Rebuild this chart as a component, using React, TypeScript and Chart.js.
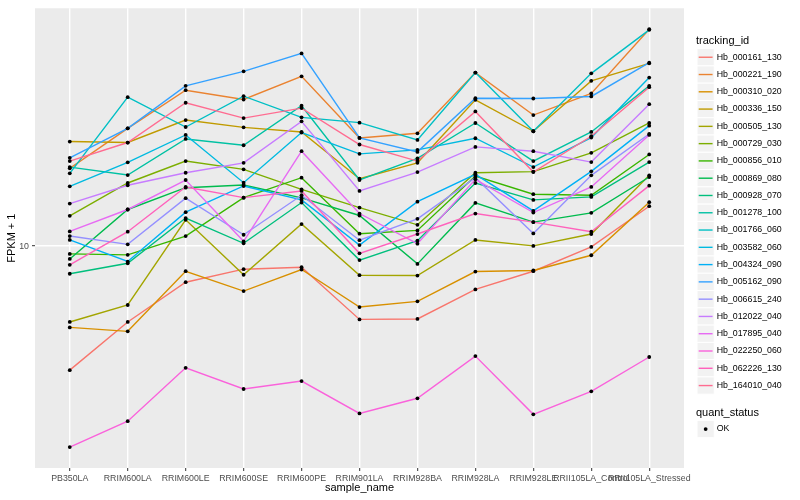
import React, { useEffect, useRef } from "react";
import { Chart, registerables } from "chart.js";

Chart.register(...registerables);

const FONT = "'Liberation Sans', Arial, Helvetica, sans-serif";

// categories (x axis)
const sampleNames = [
  "PB350LA",
  "RRIM600LA",
  "RRIM600LE",
  "RRIM600SE",
  "RRIM600PE",
  "RRIM901LA",
  "RRIM928BA",
  "RRIM928LA",
  "RRIM928LE",
  "RRII105LA_Control",
  "RRII105LA_Stressed",
];

// y tick labels (log10 scale)
const yTickValues = [10];

const trackingIds = [
  "Hb_000161_130",
  "Hb_000221_190",
  "Hb_000310_020",
  "Hb_000336_150",
  "Hb_000505_130",
  "Hb_000729_030",
  "Hb_000856_010",
  "Hb_000869_080",
  "Hb_000928_070",
  "Hb_001278_100",
  "Hb_001766_060",
  "Hb_003582_060",
  "Hb_004324_090",
  "Hb_005162_090",
  "Hb_006615_240",
  "Hb_012022_040",
  "Hb_017895_040",
  "Hb_022250_060",
  "Hb_062226_130",
  "Hb_164010_040",
];

const seriesColors = [
  "#F8766D", "#EA8331", "#D89000", "#C09B00", "#A3A500",
  "#7CAE00", "#39B600", "#00BB4E", "#00BF7D", "#00C1A3",
  "#00BFC4", "#00BAE0", "#00B0F6", "#35A2FF", "#9590FF",
  "#C77CFF", "#E76BF3", "#FA62DB", "#FF62BC", "#FF6C91",
];

// FPKM + 1 values per tracking_id, one per sample
const hb_000161_130 = [3.84, 5.57, 7.57, 8.37, 8.5, 5.68, 5.7, 7.16, 8.24, 9.94, 13.61];
const hb_000221_190 = [18.23, 24.83, 33.32, 31.02, 37.09, 23.05, 23.89, 38.17, 27.5, 32.49, 53.37];
const hb_000310_020 = [5.34, 5.18, 8.24, 7.07, 8.35, 6.25, 6.53, 8.22, 8.29, 9.32, 14.04];
const hb_000336_150 = [22.42, 22.25, 26.47, 25.02, 24.14, 16.83, 19.02, 30.95, 24.27, 35.81, 40.99];
const hb_000505_130 = [5.57, 6.35, 12.25, 8.02, 11.86, 7.99, 7.97, 10.49, 10.02, 10.98, 17.27];
const hb_000729_030 = [12.64, 16.28, 19.28, 18.09, 15.49, 13.47, 11.79, 17.62, 17.78, 20.55, 25.87];
const hb_000856_010 = [9.42, 9.35, 10.81, 14.54, 16.96, 11.01, 11.29, 17.18, 14.93, 14.81, 20.29];
const hb_000869_080 = [9.06, 13.27, 15.7, 16.03, 14.51, 12.67, 8.72, 13.96, 12.04, 12.93, 17.05];
const hb_000928_070 = [8.08, 8.76, 12.42, 10.22, 14.0, 8.98, 10.43, 16.28, 14.29, 14.62, 19.13];
const hb_001278_100 = [18.41, 17.31, 22.87, 21.79, 29.56, 16.66, 19.68, 25.87, 19.28, 24.14, 34.46];
const hb_001766_060 = [17.54, 31.57, 25.08, 31.82, 27.02, 25.94, 22.7, 38.17, 24.27, 37.96, 53.09];
const hb_003582_060 = [15.87, 19.09, 23.59, 16.32, 24.03, 20.39, 21.02, 23.0, 18.41, 23.12, 36.73];
const hb_004324_090 = [10.49, 8.88, 13.0, 15.91, 14.29, 10.08, 14.1, 17.41, 13.13, 17.81, 25.35];
const hb_005162_090 = [19.77, 24.83, 34.46, 38.55, 44.26, 23.05, 20.7, 31.33, 31.26, 31.75, 41.21];
const hb_006615_240 = [10.81, 10.14, 14.48, 10.92, 14.81, 10.47, 12.35, 16.96, 11.03, 17.27, 23.77];
const hb_012022_040 = [13.89, 16.0, 17.62, 19.02, 26.2, 15.31, 17.71, 21.51, 20.81, 19.13, 29.92];
const hb_017895_040 = [11.2, 13.27, 16.66, 10.38, 20.81, 12.86, 10.19, 16.75, 12.96, 15.79, 23.59];
const hb_022250_060 = [2.12, 2.59, 3.91, 3.32, 3.53, 2.75, 3.09, 4.28, 2.73, 3.26, 4.25];
const hb_062226_130 = [8.66, 11.18, 15.79, 14.54, 15.31, 9.46, 10.98, 12.86, 12.04, 11.18, 15.95];
const hb_164010_040 = [19.28, 22.25, 30.25, 26.87, 29.02, 21.91, 19.28, 28.29, 17.71, 23.35, 34.1];

const seriesValues = [
  hb_000161_130, hb_000221_190, hb_000310_020, hb_000336_150, hb_000505_130,
  hb_000729_030, hb_000856_010, hb_000869_080, hb_000928_070, hb_001278_100,
  hb_001766_060, hb_003582_060, hb_004324_090, hb_005162_090, hb_006615_240,
  hb_012022_040, hb_017895_040, hb_022250_060, hb_062226_130, hb_164010_040,
];

const quantStatus = ["OK"];

const panelBackground = {
  id: "panelBackground",
  beforeDraw(chart: any) {
    const { ctx, chartArea } = chart;
    if (!chartArea) return;
    ctx.save();
    ctx.fillStyle = "#EBEBEB";
    ctx.fillRect(chartArea.left, chartArea.top, chartArea.right - chartArea.left, chartArea.bottom - chartArea.top);
    ctx.restore();
  },
};

function ChartCanvas() {
  const ref = useRef<HTMLCanvasElement | null>(null);

  useEffect(() => {
    if (!ref.current) return;
    Chart.defaults.font.family = FONT;

    const all = seriesValues.flat();
    const lo = Math.log10(Math.min(...all));
    const hi = Math.log10(Math.max(...all));
    const pad = (hi - lo) * 0.05;
    const yMin = Math.pow(10, lo - pad);
    const yMax = Math.pow(10, hi + pad);

    const datasets: any[] = seriesValues.map((vals, i) => ({
      type: "line",
      label: trackingIds[i],
      data: vals.map((v, j) => ({ x: j, y: v })),
      borderColor: seriesColors[i],
      backgroundColor: seriesColors[i],
      borderWidth: 1.4,
      pointRadius: 0,
      tension: 0,
      fill: false,
      order: 40 - i,
    }));
    datasets.push({
      type: "scatter",
      label: quantStatus[0],
      data: seriesValues.flatMap((vals) => vals.map((v, j) => ({ x: j, y: v }))),
      backgroundColor: "#000000",
      borderColor: "#000000",
      borderWidth: 0,
      pointRadius: 1.9,
      showLine: false,
      order: 0,
    });

    const chart = new Chart(ref.current, {
      type: "line",
      data: { datasets },
      plugins: [panelBackground],
      options: {
        animation: false,
        responsive: false,
        events: [],
        layout: { padding: { top: 5, right: 116, bottom: 0, left: 0 } },
        plugins: {
          legend: { display: false },
          tooltip: { enabled: false },
        },
        scales: {
          x: {
            type: "linear",
            min: -0.6,
            max: 10.6,
            afterBuildTicks: (s: any) => {
              s.ticks = sampleNames.map((_, i) => ({ value: i }));
            },
            afterFit: (s: any) => {
              s.height = 32;
            },
            ticks: {
              autoSkip: false,
              maxRotation: 0,
              minRotation: 0,
              padding: 2,
              color: "#4D4D4D",
              font: { size: 8.8, family: FONT },
              callback: (v: any) => sampleNames[Number(v)] ?? "",
            },
            grid: {
              color: "#FFFFFF",
              lineWidth: 1.4,
              drawTicks: true,
              tickLength: 3,
              tickColor: "#333333",
              tickWidth: 1,
            },
            border: { display: false },
            title: {
              display: true,
              text: "sample_name",
              color: "#000000",
              font: { size: 11, family: FONT },
              padding: { top: 0, bottom: 5 },
            },
          },
          y: {
            type: "logarithmic",
            min: yMin,
            max: yMax,
            afterBuildTicks: (s: any) => {
              s.ticks = yTickValues.map((v) => ({ value: v }));
            },
            afterFit: (s: any) => {
              s.width = 35;
            },
            ticks: {
              padding: 3,
              color: "#4D4D4D",
              font: { size: 8.8, family: FONT },
              callback: (v: any) => String(v),
            },
            grid: {
              color: "#FFFFFF",
              lineWidth: 1.4,
              drawTicks: true,
              tickLength: 3,
              tickColor: "#333333",
              tickWidth: 1,
            },
            border: { display: false },
            title: {
              display: true,
              text: "FPKM + 1",
              color: "#000000",
              font: { size: 11, family: FONT },
              padding: { top: 5, bottom: 0 },
            },
          },
        },
      } as any,
    });

    return () => chart.destroy();
  }, []);

  return <canvas ref={ref} width={800} height={500} style={{ position: "absolute", left: 0, top: 0 }} />;
}

function Legend() {
  const keyH = 17.28;
  const firstTop = 48.6;
  const okTop = 420.4;
  const textStyle: React.CSSProperties = {
    position: "absolute",
    left: 716.7,
    height: keyH,
    lineHeight: keyH + "px",
    fontSize: 8.8,
    color: "#000",
    fontFamily: FONT,
    whiteSpace: "nowrap",
  };
  const titleStyle: React.CSSProperties = {
    position: "absolute",
    left: 696,
    fontSize: 11,
    lineHeight: "14px",
    color: "#000",
    fontFamily: FONT,
    whiteSpace: "nowrap",
  };
  return (
    <>
      <svg width={800} height={500} style={{ position: "absolute", left: 0, top: 0 }}>
        {trackingIds.map((id, i) => {
          const top = firstTop + keyH * i;
          return (
            <g key={id}>
              <rect x={697} y={top} width={keyH} height={keyH} fill="#F2F2F2" stroke="#FFFFFF" strokeWidth={1} />
              <line x1={697 + 1.7} x2={697 + keyH - 1.7} y1={top + keyH / 2} y2={top + keyH / 2} stroke={seriesColors[i]} strokeWidth={1.4} />
            </g>
          );
        })}
        {quantStatus.map((q, i) => {
          const top = okTop + keyH * i;
          return (
            <g key={q}>
              <rect x={697} y={top} width={keyH} height={keyH} fill="#F2F2F2" stroke="#FFFFFF" strokeWidth={1} />
              <circle cx={697 + keyH / 2} cy={top + keyH / 2} r={1.9} fill="#000000" />
            </g>
          );
        })}
      </svg>
      <div style={{ ...titleStyle, top: 33 }}>tracking_id</div>
      {trackingIds.map((id, i) => (
        <div key={id} style={{ ...textStyle, top: firstTop + keyH * i }}>
          {id}
        </div>
      ))}
      <div style={{ ...titleStyle, top: 405 }}>quant_status</div>
      {quantStatus.map((q, i) => (
        <div key={q} style={{ ...textStyle, top: okTop + keyH * i }}>
          {q}
        </div>
      ))}
    </>
  );
}

export default function App() {
  return (
    <div style={{ position: "fixed", left: 0, top: 0, width: 800, height: 500, background: "#FFFFFF", overflow: "hidden", fontFamily: FONT }}>
      <ChartCanvas />
      <Legend />
    </div>
  );
}
